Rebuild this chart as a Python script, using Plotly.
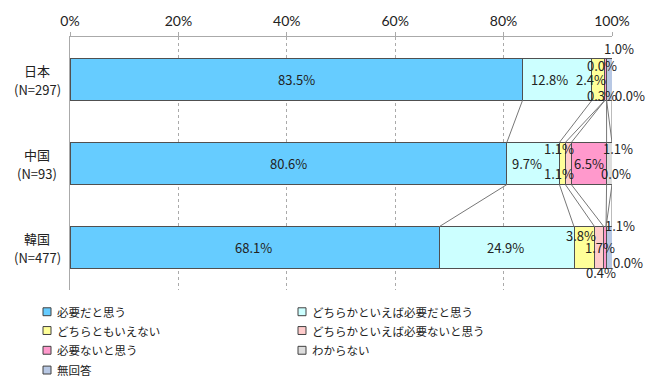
import plotly.graph_objects as go

country_names = ["日本", "中国", "韓国"]
country_n = ["(N=297)", "(N=93)", "(N=477)"]
series_names = [
    "必要だと思う",
    "どちらかといえば必要だと思う",
    "どちらともいえない",
    "どちらかといえば必要ないと思う",
    "必要ないと思う",
    "わからない",
    "無回答",
]
values = [
    [83.5, 80.6, 68.1],
    [12.8, 9.7, 24.9],
    [2.4, 1.1, 3.8],
    [0.0, 1.1, 1.7],
    [0.3, 6.5, 0.4],
    [0.0, 1.1, 0.0],
    [1.0, 0.0, 1.1],
]
colors = ["#66CCFF", "#CCFFFF", "#FFFF99", "#FFCCCC", "#FF99CC", "#DDDDDD", "#B8C8E4"]
tick_vals = [0, 20, 40, 60, 80, 100]
tick_text = ["0%", "20%", "40%", "60%", "80%", "100%"]

# label pixel offsets (xshift, yshift) per series per country
label_offsets = [
    [(0, 0), (0, 0), (-1, 0)],
    [(-8, 0), (-6, 0), (-1, 0)],
    [(-7, 0), (-3, 15), (-3, 12)],
    [(-3, 14), (-9, -10), (1, 0)],
    [(-4, -16), (0, 0), (-4, -25)],
    [(23, -16), (8, 15), (22, -15)],
    [(10, 31), (4, -10), (11, 22)],
]

W, H = 650, 389
ML, MR, MT, MB = 70, 38, 34, 99
PW, PH = W - ML - MR, H - MT - MB


def px2x(px):
    return (px - ML) / PW


def py2y(py):
    return (H - MB - py) / PH


BAR_W = 0.5
fig = go.Figure()
ypos = list(range(len(country_names)))
for name, vals, col in zip(series_names, values, colors):
    fig.add_trace(go.Bar(
        y=ypos, x=vals, name=name, orientation="h", width=BAR_W,
        marker=dict(color=col, line=dict(color="#505050", width=1)),
        hoverinfo="skip", showlegend=False,
    ))

# cumulative boundaries
cums = []
for ci in range(len(country_names)):
    c = 0.0
    row = []
    for si in range(len(series_names)):
        c += values[si][ci]
        row.append(c)
    cums.append(row)

shapes = []
for ci in range(len(country_names) - 1):
    for si in range(len(series_names)):
        x0 = min(cums[ci][si], 100)
        x1 = min(cums[ci + 1][si], 100)
        shapes.append(dict(type="line", xref="x", yref="y",
                           x0=x0, y0=ci + BAR_W / 2, x1=x1, y1=ci + 1 - BAR_W / 2,
                           line=dict(color="#777777", width=1)))

annotations = []
for si in range(len(series_names)):
    for ci in range(len(country_names)):
        v = values[si][ci]
        start = cums[ci][si] - v
        xc = min(start + v / 2, 100)
        dx, dy = label_offsets[si][ci]
        annotations.append(dict(
            x=xc, y=ci, xref="x", yref="y", text=f"{v:.1f}%", showarrow=False,
            xshift=dx, yshift=dy,
            font=dict(family="Noto Sans CJK JP", size=13, color="#222222"),
        ))

for ci in range(len(country_names)):
    for txt, dy in ((country_names[ci], 9), (country_n[ci], -10)):
        annotations.append(dict(
            x=px2x(37), y=ci, xref="paper", yref="y", text=txt, showarrow=False,
            xanchor="center", yanchor="middle", yshift=dy,
            font=dict(family="Noto Sans CJK JP", size=13, color="#222222"),
        ))

# legend (2 columns x 4 rows)
col_sq = [47, 302]
row_c = [312, 331, 351, 371]
SQ = 4
for i, (name, col) in enumerate(zip(series_names, colors)):
    cx = col_sq[i % 2]
    cy = row_c[i // 2]
    shapes.append(dict(type="rect", xref="paper", yref="paper",
                       x0=px2x(cx - SQ), x1=px2x(cx + SQ),
                       y0=py2y(cy + SQ), y1=py2y(cy - SQ),
                       fillcolor=col, line=dict(color="#404040", width=1)))
    annotations.append(dict(
        x=px2x(cx + 8), y=py2y(cy), xref="paper", yref="paper", text=name,
        showarrow=False, xanchor="left", yanchor="middle",
        font=dict(family="Noto Sans CJK JP", size=11.5, color="#222222"),
    ))

fig.update_layout(
    width=W, height=H,
    barmode="stack",
    margin=dict(l=ML, r=MR, t=MT, b=MB),
    paper_bgcolor="white", plot_bgcolor="white",
    shapes=shapes, annotations=annotations,
    showlegend=False,
    xaxis=dict(side="top", range=[0, 100], tickvals=tick_vals, ticktext=tick_text,
               showgrid=True, gridcolor="#AAAAAA", griddash="dot", gridwidth=1,
               showline=True, linecolor="#AAAAAA", linewidth=1,
               ticks="outside", ticklen=4, tickcolor="#AAAAAA",
               tickfont=dict(family="Lato", size=14, color="#222222"),
               zeroline=False, fixedrange=True),
    yaxis=dict(tickvals=ypos, showticklabels=False, range=[2.5, -0.5],
               showline=True, linecolor="#AAAAAA", linewidth=1,
               showgrid=False, zeroline=False, ticks="",
               fixedrange=True),
)

fig.write_html("out.html", config={"displayModeBar": False},
               post_script="document.body.style.margin='0';document.body.style.overflow='hidden';")
